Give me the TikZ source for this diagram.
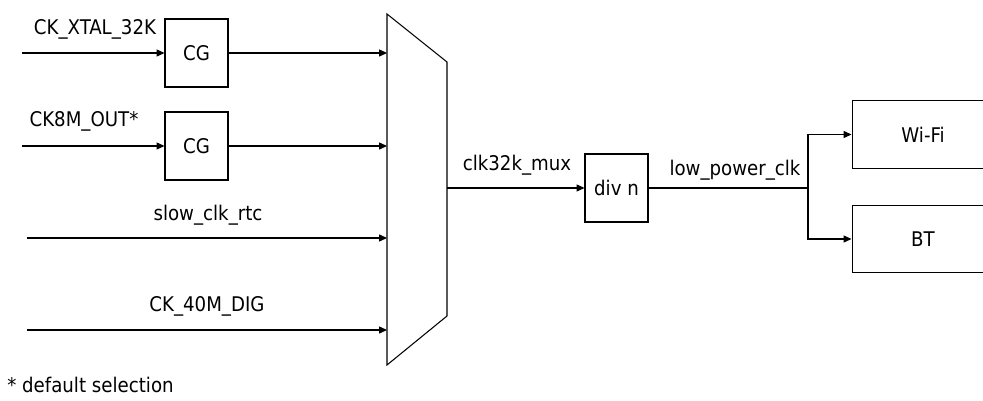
\documentclass[tikz,border=0pt]{standalone}
\usepackage{fontspec}
\setmainfont{DejaVu Sans Condensed}
\usetikzlibrary{arrows.meta,positioning}
\tikzset{
  wire/.style={line width=0.6pt},
  arrow/.style={wire, -{Triangle[length=4.5pt, width=4pt]}},
  block/.style={draw, line width=0.6pt, minimum width=1.26cm, minimum height=1.36cm, inner sep=0pt},
  wide block/.style={block, minimum width=2.84cm, minimum height=1.35cm},
  lbl/.style={anchor=base, inner sep=0pt},
}

\begin{document}
\begin{tikzpicture}[x=0.02cm, y=-0.02cm, font=\fontsize{11.5}{14}\selectfont]
  \useasboundingbox (0,0) rectangle (983,401);
  \clip (0,0) rectangle (983,401);

  % Multiplexer
  \draw[wire] (387,14) -- (447,62) -- (447,316) -- (387,365) -- cycle;
  \coordinate (mux in1) at (387,53);
  \coordinate (mux in2) at (387,146);
  \coordinate (mux in3) at (387,238);
  \coordinate (mux in4) at (387,330);
  \coordinate (mux out) at (447,188);

  % Clock gates
  \node[block] (cg1) at (196.5,53) {CG};
  \node[block] (cg2) at (196.5,146) {CG};
  \coordinate (src1) at (22,53);
  \coordinate (src2) at (22,146);
  \coordinate (src3) at (27,238);
  \coordinate (src4) at (27,330);

  % Divider and consumers
  \node[block] (div) at (616.5,188) {div n};
  \node[wide block] (wifi) at (923,134.5) {Wi-Fi};
  \node[wide block] (bt) at (923,239) {BT};
  \coordinate (split) at (808,188);

  % Inputs
  \draw[arrow] (src1) -- (cg1.west);
  \draw[arrow] (src2) -- (cg2.west);
  \draw[arrow] (cg1.east) -- (mux in1);
  \draw[arrow] (cg2.east) -- (mux in2);
  \draw[arrow] (src3) -- (mux in3);
  \draw[arrow] (src4) -- (mux in4);

  % Outputs
  \draw[arrow] (mux out) -- (div.west);
  \draw[wire] (div.east) -- (split);
  \draw[arrow] (split) |- (wifi.west);
  \draw[arrow] (split) |- (bt.west);

  % Labels
  \node[lbl] (l1) at (95,35) {CK\_XTAL\_32K};
  \node[lbl] (l2) at (84,127) {CK8M\_OUT*};
  \node[lbl] (l3) at (208,221) {slow\_clk\_rtc};
  \node[lbl] (l4) at (207,312) {CK\_40M\_DIG};
  \node[lbl] (l5) at (517,171) {clk32k\_mux};
  \node[lbl] (l6) at (735,176) {low\_power\_clk};
  \node[anchor=base west, inner sep=0pt] (note) at (7,393) {* default selection};
\end{tikzpicture}
\end{document}
